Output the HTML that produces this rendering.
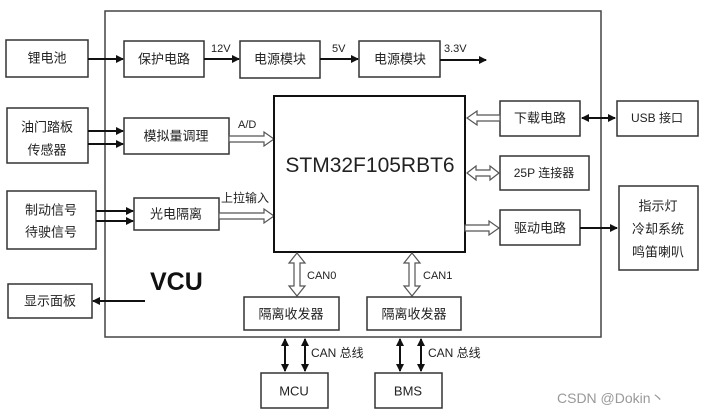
<!DOCTYPE html>
<html><head><meta charset="utf-8"><style>
body{margin:0;background:#fff;}
svg{display:block;font-family:"Liberation Sans","Noto Sans CJK SC",sans-serif;}
.b{fill:#fff;stroke:#333;stroke-width:1.5}
.t{font-size:13px;fill:#222;text-anchor:middle;dominant-baseline:central}
.s{font-size:11px;fill:#222}
.l{stroke:#111;stroke-width:2;fill:none}
.h{fill:#fff;stroke:#555;stroke-width:1.2}
</style></head><body>
<svg width="704" height="414" viewBox="0 0 704 414">
<defs>
<marker id="a" markerWidth="8" markerHeight="8" refX="7" refY="4" orient="auto-start-reverse" markerUnits="userSpaceOnUse"><path d="M0,0 L8,4 L0,8 z" fill="#111"/></marker>
</defs>
<!-- outer VCU -->
<rect x="105" y="11" width="496" height="326" fill="none" stroke="#444" stroke-width="1.5"/>
<!-- row1 -->
<rect class="b" x="6" y="40" width="82" height="37"/><text class="t" x="47" y="58">锂电池</text>
<rect class="b" x="124" y="41" width="80" height="36"/><text class="t" x="164" y="59">保护电路</text>
<rect class="b" x="240" y="41" width="80" height="37"/><text class="t" x="280" y="59">电源模块</text>
<rect class="b" x="359" y="41" width="81" height="36"/><text class="t" x="400" y="59">电源模块</text>
<line class="l" x1="88" y1="59" x2="123" y2="59" marker-end="url(#a)"/>
<line class="l" x1="204" y1="59" x2="239" y2="59" marker-end="url(#a)"/>
<line class="l" x1="320" y1="59" x2="358" y2="59" marker-end="url(#a)"/>
<line class="l" x1="440" y1="60" x2="486" y2="60" marker-end="url(#a)"/>
<text class="s" x="211" y="52">12V</text><text class="s" x="332" y="52">5V</text><text class="s" x="444" y="52">3.3V</text>
<!-- row2 -->
<rect class="b" x="7" y="108" width="81" height="55"/><text class="t" x="47" y="127">油门踏板</text><text class="t" x="47" y="150">传感器</text>
<rect class="b" x="124" y="118" width="105" height="36"/><text class="t" x="176" y="136">模拟量调理</text>
<line class="l" x1="88" y1="131" x2="123" y2="131" marker-end="url(#a)"/>
<line class="l" x1="88" y1="144" x2="123" y2="144" marker-end="url(#a)"/>
<polygon class="h" points="229,136 264,136 264,132 274,139 264,146 264,142 229,142"/>
<text class="s" x="238" y="128">A/D</text>
<!-- row3 -->
<rect class="b" x="7" y="191" width="89" height="58"/><text class="t" x="51" y="210">制动信号</text><text class="t" x="51" y="232">待驶信号</text>
<rect class="b" x="134" y="198" width="85" height="32"/><text class="t" x="176" y="214">光电隔离</text>
<line class="l" x1="96" y1="211" x2="133" y2="211" marker-end="url(#a)"/>
<line class="l" x1="96" y1="221" x2="133" y2="221" marker-end="url(#a)"/>
<polygon class="h" points="219,213 264,213 264,209 274,216 264,223 264,219 219,219"/>
<text class="s" x="221" y="202" style="font-size:12px">上拉输入</text>
<!-- STM -->
<rect x="274" y="96" width="191" height="156" fill="#fff" stroke="#111" stroke-width="2"/>
<text x="370" y="172" style="font-size:21px;fill:#222;text-anchor:middle">STM32F105RBT6</text>
<!-- right -->
<rect class="b" x="500" y="101" width="80" height="35"/><text class="t" x="540" y="118">下载电路</text>
<rect class="b" x="617" y="101" width="81" height="35"/><text class="t" x="657" y="118" style="font-size:12px">USB 接口</text>
<line class="l" x1="582" y1="118" x2="615" y2="118" marker-start="url(#a)" marker-end="url(#a)"/>
<polygon class="h" points="500,115 477,115 477,111 467,118 477,125 477,121 500,121"/>
<rect class="b" x="500" y="156" width="89" height="34"/><text class="t" x="544" y="173" style="font-size:12px">25P 连接器</text>
<polygon class="h" points="467,173 476,166 476,170 490,170 490,166 499,173 490,180 490,176 476,176 476,180"/>
<rect class="b" x="500" y="210" width="80" height="35"/><text class="t" x="540" y="228">驱动电路</text>
<polygon class="h" points="465,225 489,225 489,221 499,228 489,235 489,231 465,231"/>
<line class="l" x1="580" y1="228" x2="617" y2="228" marker-end="url(#a)"/>
<rect class="b" x="619" y="186" width="79" height="84"/><text class="t" x="658" y="206">指示灯</text><text class="t" x="658" y="229">冷却系统</text><text class="t" x="658" y="252">鸣笛喇叭</text>
<!-- VCU -->
<text x="150" y="290" style="font-size:25px;font-weight:bold;fill:#111">VCU</text>
<rect class="b" x="8" y="284" width="84" height="34"/><text class="t" x="50" y="301">显示面板</text>
<line class="l" x1="145" y1="301" x2="93" y2="301" marker-end="url(#a)"/>
<!-- CAN -->
<polygon class="h" points="297,253 305,263 300,263 300,286 305,286 297,296 289,286 294,286 294,263 289,263"/>
<polygon class="h" points="412,253 420,263 415,263 415,286 420,286 412,296 404,286 409,286 409,263 404,263"/>
<text class="s" x="307" y="279">CAN0</text><text class="s" x="423" y="279">CAN1</text>
<rect class="b" x="244" y="297" width="95" height="33"/><text class="t" x="291" y="314">隔离收发器</text>
<rect class="b" x="367" y="297" width="94" height="33"/><text class="t" x="414" y="314">隔离收发器</text>
<line class="l" x1="285" y1="339" x2="285" y2="371" marker-start="url(#a)" marker-end="url(#a)"/>
<line class="l" x1="305" y1="339" x2="305" y2="371" marker-start="url(#a)" marker-end="url(#a)"/>
<line class="l" x1="400" y1="339" x2="400" y2="371" marker-start="url(#a)" marker-end="url(#a)"/>
<line class="l" x1="421" y1="339" x2="421" y2="371" marker-start="url(#a)" marker-end="url(#a)"/>
<text class="s" x="311" y="357" style="font-size:12px">CAN 总线</text>
<text class="s" x="428" y="357" style="font-size:12px">CAN 总线</text>
<rect class="b" x="261" y="373" width="67" height="35"/><text class="t" x="294" y="391">MCU</text>
<rect class="b" x="375" y="373" width="67" height="35"/><text class="t" x="408" y="391">BMS</text>
<text x="557" y="403" style="font-size:14px;fill:#999">CSDN @Dokin丶</text>
</svg>
</body></html>
